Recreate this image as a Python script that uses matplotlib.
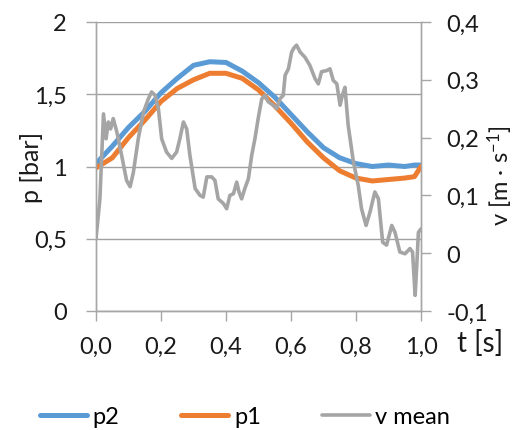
import matplotlib
matplotlib.use("Agg")
import matplotlib.pyplot as plt
from matplotlib.ticker import FuncFormatter

plt.rcParams['font.family'] = ['Lato', 'DejaVu Sans']
plt.rcParams['mathtext.fontset'] = 'custom'
plt.rcParams['mathtext.rm'] = 'Lato'
plt.rcParams['mathtext.it'] = 'Lato:italic'

# ---- data ----
t_p = [0.00, 0.05, 0.10, 0.15, 0.20, 0.25, 0.30, 0.35, 0.40, 0.45, 0.50,
       0.55, 0.60, 0.65, 0.70, 0.75, 0.80, 0.85, 0.90, 0.95, 0.98, 1.00]
p2 = [1.02, 1.14, 1.27, 1.38, 1.51, 1.61, 1.70, 1.725, 1.72, 1.66, 1.58,
      1.48, 1.36, 1.24, 1.13, 1.06, 1.02, 1.00, 1.01, 1.00, 1.01, 1.01]
p1 = [0.99, 1.06, 1.20, 1.32, 1.45, 1.54, 1.60, 1.645, 1.645, 1.61, 1.53,
      1.42, 1.30, 1.17, 1.06, 0.97, 0.92, 0.90, 0.91, 0.92, 0.93, 1.00]

t_v = [0.000, 0.012, 0.023, 0.031, 0.038, 0.045, 0.053, 0.064, 0.079, 0.094,
       0.105, 0.115, 0.130, 0.146, 0.161, 0.171, 0.182, 0.192, 0.202, 0.217,
       0.233, 0.248, 0.258, 0.269, 0.279, 0.289, 0.305, 0.320, 0.330, 0.341,
       0.356, 0.366, 0.376, 0.392, 0.402, 0.412, 0.423, 0.433, 0.440, 0.448,
       0.458, 0.469, 0.479, 0.489, 0.499, 0.510, 0.520, 0.530, 0.546, 0.556,
       0.566, 0.576, 0.582, 0.592, 0.602, 0.609, 0.617, 0.628, 0.643, 0.658,
       0.674, 0.684, 0.694, 0.710, 0.720, 0.730, 0.741, 0.751, 0.758, 0.766,
       0.776, 0.792, 0.807, 0.817, 0.831, 0.843, 0.858, 0.869, 0.882, 0.894,
       0.910, 0.920, 0.935, 0.951, 0.966, 0.974, 0.982, 0.987, 0.992, 1.000]
v_mean = [0.025, 0.094, 0.241, 0.198, 0.227, 0.215, 0.233, 0.210, 0.169, 0.126,
          0.115, 0.140, 0.198, 0.244, 0.267, 0.279, 0.273, 0.250, 0.198, 0.175,
          0.164, 0.175, 0.198, 0.227, 0.215, 0.169, 0.112, 0.100, 0.097, 0.132,
          0.132, 0.126, 0.094, 0.086, 0.077, 0.100, 0.103, 0.123, 0.106, 0.094,
          0.112, 0.129, 0.169, 0.198, 0.233, 0.267, 0.273, 0.262, 0.256, 0.250,
          0.267, 0.273, 0.308, 0.319, 0.348, 0.355, 0.360, 0.348, 0.339, 0.325,
          0.302, 0.293, 0.314, 0.316, 0.319, 0.299, 0.293, 0.256, 0.273, 0.287,
          0.221, 0.158, 0.117, 0.077, 0.048, 0.071, 0.106, 0.094, 0.019, 0.014,
          0.048, 0.036, 0.002, -0.001, 0.008, 0.002, -0.073, -0.021, 0.036, 0.042]

x_ticks = [0.0, 0.2, 0.4, 0.6, 0.8, 1.0]
yl_ticks = [0, 0.5, 1, 1.5, 2]
yr_ticks = [-0.1, 0, 0.1, 0.2, 0.3, 0.4]

BLUE = '#5B9BD5'
ORANGE = '#ED7D31'
GRAY = '#A5A5A5'
AXC = '#A6A6A6'
TXT = '#1a1a1a'
FS = 17

W, H = 519, 431
fig = plt.figure(figsize=(W / 100, H / 100), dpi=100)
ax = fig.add_axes([96 / W, 1 - 312 / H, (421 - 96) / W, (312 - 23) / H])
ax2 = ax.twinx()

l2, = ax.plot(t_p, p2, color=BLUE, lw=3.6, solid_capstyle='round', label='p2', zorder=3)
l1, = ax.plot(t_p, p1, color=ORANGE, lw=3.6, solid_capstyle='round', label='p1', zorder=3)
lv, = ax2.plot(t_v, v_mean, color=GRAY, lw=2.6, solid_capstyle='round', label='v mean', zorder=3)

ax.set_xlim(0, 1.0)
ax.set_ylim(0, 2)
ax2.set_ylim(-0.1, 0.4)
ax.set_xticks(x_ticks)
ax.set_yticks(yl_ticks)
ax2.set_yticks(yr_ticks)

def lab_x(v, pos):
    return ('%.1f' % v).replace('.', ',')

def lab_left(v, pos):
    return ('%g' % v).replace('.', ',')

def lab_right(v, pos):
    if abs(v) < 1e-9:
        return '0'
    return ('%.1f' % v).replace('.', ',')

ax.xaxis.set_major_formatter(FuncFormatter(lab_x))
ax.yaxis.set_major_formatter(FuncFormatter(lab_left))
ax2.yaxis.set_major_formatter(FuncFormatter(lab_right))

ax.grid(axis='y', color='#A0A0A0', lw=1.0, zorder=0)
ax.set_axisbelow(True)

for a in (ax, ax2):
    for s in a.spines.values():
        s.set_color(AXC)
        s.set_linewidth(1.0)
    a.spines['top'].set_visible(False)
    a.tick_params(colors=AXC, labelcolor=TXT, labelsize=FS, length=7, width=1.0, direction='out')
ax.tick_params(axis='x', pad=11)
ax.tick_params(axis='y', pad=14)
ax2.tick_params(axis='y', pad=11)

ax.set_ylabel('p [bar]', fontsize=FS + 1, color=TXT)
ax.yaxis.set_label_coords(-0.163, 0.5)
ax2.set_ylabel(r'v [m · s$^{\mathrm{-1}}$]', fontsize=FS, color=TXT)
ax2.yaxis.set_label_coords(1.197, 0.47)
fig.text(480 / W, 1 - 344 / H, 't [s]', fontsize=FS + 3, color=TXT, ha='center', va='center')

fig.legend(handles=[l2, l1, lv], loc='center', bbox_to_anchor=(0.472, 1 - 418 / H),
           ncol=3, frameon=False, fontsize=FS, handlelength=2.0, handletextpad=0.25,
           columnspacing=2.6)

fig.savefig('out.png', dpi=100)
